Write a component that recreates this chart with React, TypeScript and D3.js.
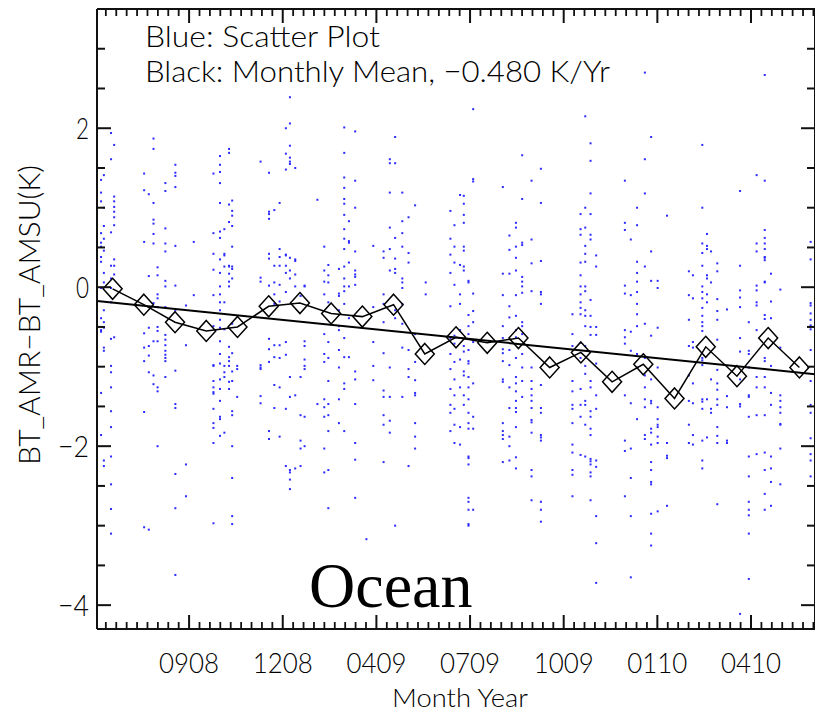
import React from "react";
import * as d3 from "d3";

const W = 815;
const H = 714;

// x axis: month index (0 = Jul 2008 monthly mean), tick labels MMYY
const tickLabels = ["0908", "1208", "0409", "0709", "1009", "0110", "0410"];
const tickMonths = [2.45, 5.45, 8.45, 11.45, 14.45, 17.45, 20.45];
const yMajorTicks = [-4, -2, 0, 2];

// monthly means (K)
const monthlyMean = [
  -0.02, -0.22, -0.44, -0.55, -0.5, -0.24, -0.2, -0.33, -0.37, -0.22, -0.84, -0.63,
  -0.7, -0.64, -1.01, -0.82, -1.19, -0.97, -1.4, -0.75, -1.12, -0.64, -1.01,
];

// linear trend
const trendPerYear = -0.48;
const trendIntercept = -0.194;

// scatter: [month position, values in K]
const scatterGroups: [number, number[]][] = [
  [-0.37, [1.35, 1.19, 1.08, 0.68, 0.56, 0.51, 0.38, 0.32, -0.01, -0.39, -0.54, -0.56, -1.33, -1.86]],
  [-0.28, [1.41, 1.0, 0.77, 0.61, 0.46, 0.18, 0.06, -0.29, -0.44, -0.51, -0.76, -0.8, -2.18, -2.25]],
  [-0.05, [1.94, 1.61, 0.69, 0.27, 0.11, -0.01, -0.19, -0.65, -0.99, -1.07, -1.26, -1.56, -1.76, -2.13, -2.48, -2.79, -3.1]],
  [0.05, [1.79, 1.14, 1.08, 1.01, 0.95, 0.88, 0.78, 0.35, 0.27, 0.16, -0.63]],
  [1.01, [1.43, 1.22, 0.57, -0.58, -0.76, -0.93, -1.57, -3.02]],
  [1.16, [1.17, 0.14, -0.51, -0.74, -0.86, -3.05, -1.07]],
  [1.31, [1.87, 1.74, 1.06, 0.85, 0.8, 0.67, 0.55, -0.2, -0.68, -1.11, -1.22]],
  [1.44, [0.25, 0.15, -0.09, -0.14, -0.25, -0.5, -0.55, -0.68, -1.26, -1.31, -2.0]],
  [1.69, [1.31, 1.21, 0.74, 0.55, 0.45, 0.08, 0.01, -0.25, -0.6, -0.66, -0.73, -0.8, -0.85, -0.89, -0.93, -1.13]],
  [2.01, [1.54, 1.44, 1.4, 1.26, 0.52, 0.02, -0.29, -1.05, -1.47, -1.52, -2.35, -2.78, -3.62]],
  [2.35, [-0.23, -0.73, -2.23, -2.63]],
  [2.6, [0.57, -0.1]],
  [3.23, [1.43, 0.68, 0.42, 0.22, -0.1, -0.49, -0.98, -0.99, -1.18, -1.26, -1.32, -1.34, -1.53, -1.71, -1.77, -1.96, -2.97]],
  [3.44, [1.65, 1.54, 1.45, 1.31, 1.06, 0.7, 0.62, 0.35, 0.18, 0.01, -0.09, -0.19, -0.29, -0.41, -0.51, -0.68, -0.84, -0.96, -1.16, -1.28, -1.43, -1.66, -1.63, -1.87]],
  [3.58, [0.73, 0.42, 0.4, 0.26, -0.19, -0.53, -0.99, -1.07, -1.13, -1.83]],
  [3.73, [1.74, 1.69, 1.04, 0.82, 0.27, 0.26, 0.17, 0.07, 0.01, -0.75, -0.88, -0.93, -0.99, -1.19, -1.28]],
  [3.83, [1.09, 0.96, 0.9, 0.77, 0.51, 0.26, 0.23, 0.11, -0.46, -0.83, -1.06, -1.18, -1.56, -1.61, -2.0, -2.4, -2.88, -2.98]],
  [3.99, [-0.99, -1.03, -1.38]],
  [4.74, [1.58, 0.12, 0.07, -1.01, -0.98, -1.03, -1.46, -1.37]],
  [5.01, [1.44, 0.92, 0.95, 0.86, 0.42, 0.36, 0.02, -0.65, -0.78, -0.94, -1.81, -1.91]],
  [5.18, [0.97, 0.27, 0.06, -0.09, -0.21, -0.73, -0.88, -1.23, -1.52]],
  [5.35, [1.06, 0.48, 0.38, 0.27, 0.03, -0.18, -0.73, -0.89, -1.26, -1.88]],
  [5.55, [2.0, 1.68, 1.48, 0.41, 0.4, 0.27, 0.18, -0.06, -0.69, -0.85, -1.53, -2.25]],
  [5.68, [2.39, 2.06, 1.78, 1.63, 1.58, 1.55, 0.37, 0.21, 0.11, -1.13, -1.38, -2.33, -2.3, -2.42, -2.54]],
  [5.85, [1.5, 0.35, 0.33, 0.16, 0.01, -1.36, -2.28]],
  [6.02, [-0.11, -1.13, -1.61, -1.93, -2.03, -2.25]],
  [6.15, [0.02, 0.01, -0.68, -0.74, -0.91, -0.99, -1.03, -1.63, -2.0]],
  [6.56, [1.1, -1.47]],
  [6.78, [0.51, 0.21, 0.07, -0.09, -0.59, -0.84, -0.94, -1.41, -1.51, -1.63, -2.03, -2.33]],
  [6.91, [0.28, 0.15, 0.06, -0.19, -0.69, -0.89, -1.18, -1.47, -1.61, -1.81, -2.3, -2.78]],
  [7.25, [0.23, -0.08, -0.11, -0.29, -0.49, -0.54, -0.79, -1.01, -1.41, -1.71]],
  [7.42, [2.01, 1.69, 1.38, 1.25, 1.11, 1.05, 0.91, 0.73, 0.61, 0.48, 0.26, 0.11, 0.01, -0.05, -0.21, -0.64, -0.88, -1.21, -1.28, -1.81]],
  [7.57, [0.83, 0.56, 0.58, 0.31, 0.01, -0.39, -0.88]],
  [7.77, [1.96, 1.34, 1.0, 0.45, 0.21, 0.16, 0.13, 0.03, -1.06, -1.16, -1.47, -1.96, -2.17, -2.65]],
  [8.13, [-3.17]],
  [8.35, [0.52, -1.17, -0.25, -0.69, -0.99]],
  [8.68, [0.37, 0.45, -0.09, -0.44, -0.21, -0.83, -1.3, -1.61, -1.73, -1.38, -2.2]],
  [8.88, [1.61, 1.56, 1.19, 0.75, 0.48, 0.21, -1.01, -1.38, -1.68, -1.83]],
  [9.05, [1.89, 1.56, 0.62, 0.36, 0.23, 0.18, -0.29, -0.39, -3.0]],
  [9.28, [1.19, 0.83, 0.68, 0.51, 0.11, 0.06, -0.01, -0.21, -0.46, -0.76, -1.38]],
  [9.48, [0.88, 0.43, 0.31, -0.79, -1.03, -1.13, -2.25]],
  [9.69, [1.03, -0.59, -0.94, -1.17, -1.36, -1.33, -1.71, -1.88, -2.03]],
  [10.03, [0.06, -0.09]],
  [10.82, [0.96, 0.61, 0.41, 0.18, -0.24, -0.64, -0.84, -1.03, -1.28, -1.48, -1.58, -1.81]],
  [10.95, [0.78, 0.51, 0.31, 0.03, -0.61, -0.71, -0.94, -1.16, -1.36, -1.53, -1.73, -1.96]],
  [11.13, [1.16, 0.28, -0.09, -0.21, -0.54, -0.91, -1.26, -1.76, -1.98]],
  [11.25, [1.15, 1.05, 0.91, 0.81, 0.51, 0.46, 0.26, 0.21, -0.74, -0.81, -1.06, -1.11, -1.36, -1.48]],
  [11.4, [0.08, 0.06, -0.35, -0.49, -0.59, -0.79, -0.96, -0.93, -1.13, -1.26, -1.41, -1.58, -1.71, -1.78, -2.13, -2.15, -2.23, -2.65, -2.7, -2.8, -2.98, -3.0]],
  [11.55, [2.24, 1.36, 1.33, -0.08, -0.3, -0.44, -0.69, -1.21, -1.63, -1.78, -2.8]],
  [12.5, [1.26, 0.17, -0.1, -0.49, -0.64, -0.78, -0.83, -0.93, -1.16, -1.19, -1.71, -1.81, -1.86, -1.91, -2.2]],
  [12.71, [0.65, 0.47, 0.17, -0.24, -0.38, -0.79, -0.98, -1.26, -1.52, -1.88, -2.0, -2.18]],
  [12.92, [0.81, 0.75, 0.51, 0.37, 0.21, -0.1, -0.36, -0.54, -0.63, -0.89, -1.13, -1.21, -1.31, -1.43, -1.52, -1.57, -1.76, -2.14, -2.28]],
  [13.12, [1.66, 1.11, 0.56, 0.53, 0.13, 0.07, 0.01, -0.07, -0.44, -0.49, -0.59, -0.84, -1.01, -1.18, -1.38]],
  [13.42, [1.34, 0.6, 0.3, -0.05, -1.01, -1.18, -1.28, -1.36, -1.43, -1.52, -1.67, -1.7, -1.83, -2.3, -2.38, -2.68]],
  [13.72, [1.49, 1.06, 0.33, -0.06, -0.09, -0.21, -1.23, -1.52, -1.58, -1.86, -1.89, -1.93, -2.7, -2.8, -2.95]],
  [14.73, [-0.34, -0.59, -0.74, -1.18, -1.31, -1.48, -1.53, -1.71, -1.98, -2.08, -2.3, -2.36, -2.63]],
  [14.99, [0.92, 0.73, 0.66, 0.31, 0.15, 0.01, -0.09, -0.19, -0.26, -0.34, -0.7, -0.89, -1.48, -1.63, -2.11, -1.28]],
  [15.14, [2.15, 1.0, 0.75, 0.52, 0.42, 0.32, 0.01, -0.05, -0.29, -0.36, -0.49, -0.74, -0.99, -1.09, -1.43, -1.48, -1.73, -2.13]],
  [15.31, [1.81, 1.59, 1.18, 0.92, 0.66, 0.6, -0.16, -0.36, -0.5, -0.6, -1.18, -1.26, -1.56, -1.63, -1.78, -1.86, -2.16, -2.19, -2.23, -2.33, -2.38, -2.68]],
  [15.49, [0.4, 0.26, -0.5, -0.6, -0.96, -1.36, -1.53, -2.18, -2.26, -2.88, -3.22, -3.72]],
  [16.41, [1.34, 0.81, 0.72, 0.02, -0.08, -0.54, -0.63, -0.71, -1.36, -1.93, -2.06, -2.63]],
  [16.6, [0.6, -0.1, -0.56, -0.8, -1.46, -2.03, -2.4, -2.88, -3.65]],
  [16.8, [1.0, 0.78, 0.32, 0.18, 0.07, -0.06, -0.21, -0.34, -0.49, -0.84, -1.01, -1.66]],
  [17.05, [2.7, 1.61, 1.18, 0.26, -0.46, -0.89, -1.11, -1.26, -1.41, -1.51, -1.86, -1.91]],
  [17.25, [1.89, 0.45, 0.08, -0.61, -1.16, -1.43, -1.46, -1.78, -1.83, -1.98, -2.2, -2.3, -2.45, -2.48, -2.85, -3.1, -3.25]],
  [17.46, [0.08, -0.01, -0.51, -1.01, -1.51, -1.66, -1.73, -1.76, -1.88, -1.96, -2.82]],
  [17.76, [0.9, -1.96, -2.12, -2.15, -2.75]],
  [18.46, [0.2, -0.1, -0.41, -0.74, -1.11, -1.43, -1.73, -1.96]],
  [18.59, [0.15, -0.14, -0.69, -0.76, -1.21, -1.46, -1.86, -1.98]],
  [18.89, [1.79, 1.0, 0.55, 0.43, 0.27, 0.01, -0.06, -0.14, -0.26, -0.36, -0.44, -0.49, -0.55, -0.89, -0.92, -0.98, -1.41, -1.44, -1.53, -1.93, -2.18, -2.28]],
  [19.04, [0.67, 0.52, 0.48, 0.15, 0.11, -0.09, -0.19, -1.41, -1.89]],
  [19.17, [0.45, 0.06, -1.16, -1.53, -1.58]],
  [19.37, [0.3, 0.2, -0.15, -0.3, -0.41, -0.66, -1.04, -1.21, -1.29, -1.41, -1.48, -1.76, -1.87, -1.96, -2.73]],
  [19.68, [-1.51, -1.37, -1.93, -1.96, -0.28]],
  [20.1, [1.21, 0.27, -0.04, -0.13, -0.25, -0.64, -0.81, -1.16, -1.47, -1.5, -4.11]],
  [20.38, [-0.44, -0.8, -0.84, -1.01, -1.36, -1.38, -1.63, -2.13, -2.38, -2.7, -2.8, -2.87, -3.1, -3.67]],
  [20.63, [1.41, 0.55, 0.45, 0.02, -0.04, -0.19, -0.23, -0.54, -1.13, -1.26, -1.61, -2.1]],
  [20.89, [2.67, 1.34, 0.72, 0.62, 0.55, 0.48, 0.38, 0.37, 0.34, 0.07, 0.06, -0.35, -0.4, -0.89, -0.93, -1.13, -1.26, -1.61, -2.08, -2.3, -2.6, -2.8]],
  [21.09, [0.17, -0.18, -0.39, -0.99, -1.33, -1.48, -2.13, -2.28, -2.45, -2.75]],
  [21.39, [-0.03, -0.76, -1.36, -1.43, -1.58, -1.72, -1.51, -1.73, -2.03, -2.48]],
  [22.36, [0.57, 0.35, -0.2, -0.23, -0.33, -0.41, -0.53, -0.48, -0.79, -1.18, -1.48, -1.58, -1.9, -2.1, -2.18, -2.38]],
];

const FONT = "Lato, 'Liberation Sans', sans-serif";

export default function App() {
  const left = 97, right = 815, top = 9, bottom = 629;
  const x = d3.scaleLinear().domain([-0.5, 22.5]).range([left, right]);
  const y = d3.scaleLinear().domain([-4.3, 3.5]).range([bottom, top]);

  const minorY = d3.range(-4.0, 3.51, 0.5).filter((v) => Math.abs(v / 2 - Math.round(v / 2)) > 1e-6);
  const step = (tickMonths[1] - tickMonths[0]) / 9;
  const minorX: number[] = [];
  for (let v = tickMonths[0]; v > -0.5; v -= step) minorX.push(v);
  for (let v = tickMonths[0] + step; v < 22.5; v += step) minorX.push(v);
  const minorXf = minorX.filter((v) => !tickMonths.some((t) => Math.abs(t - v) < 1e-6));

  const points: [number, number][] = [];
  scatterGroups.forEach(([m, vals]) => vals.forEach((v) => points.push([m, v])));

  const meanLine = d3
    .line<number>()
    .x((_, i) => x(i))
    .y((d) => y(d))(monthlyMean) as string;

  const trendAt = (m: number) => trendIntercept + (trendPerYear / 12) * m;

  const sw = 1.8;
  return (
    <svg width={W} height={H} style={{ position: "absolute", left: 0, top: 0, background: "#fff" }}>
      <rect x={0} y={0} width={W} height={H} fill="#fff" />
      {/* scatter */}
      <g fill="#2b2bff">
        {points.map(([m, v], i) => (
          <rect key={i} x={x(m) - 1} y={y(v) - 1} width={2} height={2} />
        ))}
      </g>
      {/* trend */}
      <line x1={x(-0.5)} y1={y(trendAt(-0.5))} x2={x(22.5)} y2={y(trendAt(22.5))} stroke="#000" strokeWidth={2} />
      {/* monthly mean */}
      <path d={meanLine} fill="none" stroke="#000" strokeWidth={1.5} />
      {monthlyMean.map((v, i) => {
        const cx = x(i), cy = y(v);
        return (
          <path key={i} d={`M${cx},${cy - 10.5}L${cx + 9.5},${cy}L${cx},${cy + 10.5}L${cx - 9.5},${cy}Z`} fill="none" stroke="#000" strokeWidth={1.5} />
        );
      })}
      {/* frame */}
      <g stroke="#111" strokeWidth={2} fill="none">
        <line x1={left} y1={top} x2={right} y2={top} />
        <line x1={left} y1={bottom} x2={right} y2={bottom} />
        <line x1={left} y1={top} x2={left} y2={bottom} />
        <line x1={right} y1={top} x2={right} y2={bottom} />
        {yMajorTicks.map((t) => (
          <g key={"ym" + t}>
            <line x1={left} x2={left + 14} y1={y(t)} y2={y(t)} />
            <line x1={right} x2={right - 14} y1={y(t)} y2={y(t)} />
          </g>
        ))}
        {minorY.map((t) => (
          <g key={"yn" + t}>
            <line x1={left} x2={left + 8} y1={y(t)} y2={y(t)} />
            <line x1={right} x2={right - 8} y1={y(t)} y2={y(t)} />
          </g>
        ))}
        {tickMonths.map((t) => (
          <g key={"xm" + t}>
            <line x1={x(t)} x2={x(t)} y1={bottom} y2={bottom - 14} />
            <line x1={x(t)} x2={x(t)} y1={top} y2={top + 14} />
          </g>
        ))}
        {minorXf.map((t, i) => (
          <g key={"xn" + i} strokeWidth={sw}>
            <line x1={x(t)} x2={x(t)} y1={bottom} y2={bottom - 7} />
            <line x1={x(t)} x2={x(t)} y1={top} y2={top + 7} />
          </g>
        ))}
      </g>
      {/* tick labels */}
      <g fontFamily={FONT} fontWeight={300} fontSize={30} fill="#000">
        {yMajorTicks.map((t) => {
          const label = t < 0 ? "\u2212" + Math.abs(t) : String(t);
          return (
            <text key={"yl" + t} x={89} y={y(t) + 11} textAnchor="end" textLength={t < 0 ? 31 : 13} lengthAdjust="spacingAndGlyphs">
              {label}
            </text>
          );
        })}
        {tickLabels.map((l, i) => (
          <text key={"xl" + l} x={x(tickMonths[i])} y={673} fontSize={28} textAnchor="middle" textLength={60} lengthAdjust="spacingAndGlyphs">
            {l}
          </text>
        ))}
        <text x={460} y={707} fontSize={26} textAnchor="middle" textLength={136} lengthAdjust="spacingAndGlyphs">
          Month Year
        </text>
        <text transform="translate(40,315) rotate(-90)" textAnchor="middle" textLength={300} lengthAdjust="spacingAndGlyphs">
          BT_AMR{"\u2212"}BT_AMSU(K)
        </text>
        <text x={145} y={47} textLength={235} lengthAdjust="spacingAndGlyphs">
          Blue: Scatter Plot
        </text>
        <text x={145} y={82} textLength={465} lengthAdjust="spacingAndGlyphs">
          {`Black: Monthly Mean, \u2212${Math.abs(trendPerYear).toFixed(3)} K/Yr`}
        </text>
      </g>
      <text x={309} y={607} fontFamily="'Liberation Serif', 'Times New Roman', serif" fontSize={64} fill="#000">
        Ocean
      </text>
    </svg>
  );
}
